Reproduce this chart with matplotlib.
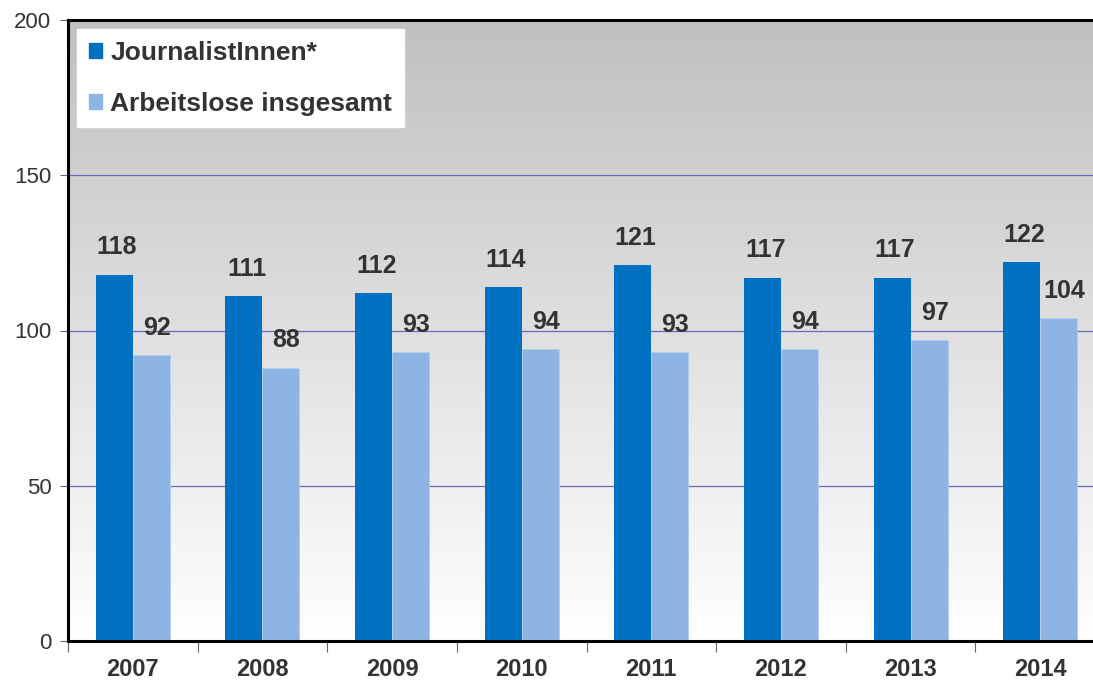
import numpy as np
import matplotlib.pyplot as plt
from matplotlib.patches import Patch

years = ['2007', '2008', '2009', '2010', '2011', '2012', '2013', '2014']
journalisten = [118, 111, 112, 114, 121, 117, 117, 122]
arbeitslose = [92, 88, 93, 94, 93, 94, 97, 104]
series_names = ['JournalistInnen*', 'Arbeitslose insgesamt']

dark_blue = '#0070C0'
light_blue = '#8EB4E3'
text_col = '#333333'

plt.rcParams['font.family'] = ['Liberation Sans', 'DejaVu Sans']

fig = plt.figure(figsize=(10.93, 6.80), dpi=100)
ax = fig.add_axes([68 / 1093, 39 / 680, 1037 / 1093, 621 / 680])

x = np.arange(len(years))
w = 0.285

# vertical grey-to-white background
grad = np.linspace(1.0, 0.0, 256).reshape(-1, 1)
ax.imshow(grad, extent=[-0.5, len(years) - 0.5, 0, 200], aspect='auto',
          cmap=plt.matplotlib.colors.LinearSegmentedColormap.from_list(
              'bg', ['#ffffff', '#c0c0c0']), zorder=0, origin='upper')

for v in (50, 100, 150):
    ax.axhline(v, color='#6868c0', lw=0.9, zorder=1)

b1 = ax.bar(x - w / 2, journalisten, w, color=dark_blue, zorder=2)
b2 = ax.bar(x + w / 2, arbeitslose, w, color=light_blue, zorder=2,
            edgecolor='#b4cdee', linewidth=0.6)

for bars, vals, dx in ((b1, journalisten, 2), (b2, arbeitslose, 4)):
    for rect, v in zip(bars, vals):
        ax.annotate(str(v), (rect.get_x() + rect.get_width() / 2, v),
                    xytext=(dx, 11), textcoords='offset points',
                    ha='center', va='bottom', fontsize=18, fontweight='bold',
                    color=text_col, zorder=3)

ax.set_xlim(-0.5, len(years) - 0.5)
ax.set_ylim(0, 200)
ax.set_yticks([0, 50, 100, 150, 200])
ax.tick_params(axis='y', labelsize=16, labelcolor=text_col, length=6,
               color='#666666', pad=6)

ax.set_xticks(np.arange(-0.5, len(years), 1.0))
ax.set_xticklabels([])
ax.set_xticks(x, minor=True)
ax.set_xticklabels(years, minor=True, fontsize=17, fontweight='bold',
                   color=text_col)
ax.tick_params(axis='x', which='major', length=8, color='#666666')
ax.tick_params(axis='x', which='minor', length=0, pad=12)

for side in ('left', 'bottom', 'top'):
    ax.spines[side].set_linewidth(2.2)
    ax.spines[side].set_color('black')
ax.spines['right'].set_visible(False)

handles = [Patch(color=dark_blue), Patch(color=light_blue)]
leg = ax.legend(handles, series_names, loc='upper left',
                bbox_to_anchor=(0.009, 0.985), frameon=True, fancybox=False,
                framealpha=1, edgecolor='white', facecolor='white',
                prop={'size': 19, 'weight': 'bold'}, handlelength=0.5,
                handleheight=0.5, handletextpad=0.3, labelspacing=1.0,
                borderpad=0.45, borderaxespad=0)
leg._legend_box.sep = 10
for t in leg.get_texts():
    t.set_color(text_col)

fig.savefig('out.png', dpi=100)
